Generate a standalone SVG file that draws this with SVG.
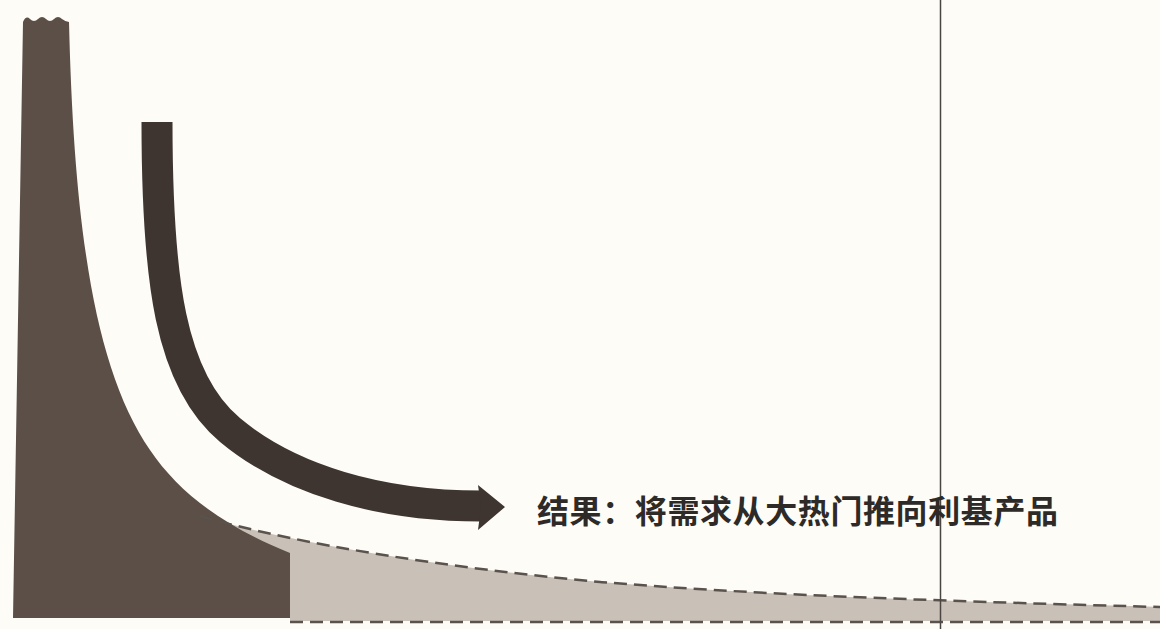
<svg xmlns="http://www.w3.org/2000/svg" width="1160" height="629" viewBox="0 0 1160 629">
  <style>
    .bg { fill: #fdfcf6; }
    .head { fill: #5b4f48; }
    .tailfill { fill: #c9c1b8; }
    .dash { fill: none; stroke: #5a524c; stroke-width: 2.5; stroke-dasharray: 13 7; }
    .shaft { fill: none; stroke: #3e3430; stroke-width: 31; stroke-linecap: butt; }
    .ahead { fill: #3e3430; }
    .label { font-family: "Noto Sans CJK SC", "Noto Sans", sans-serif; font-weight: 700; font-size: 32px; fill: #2e2a28; letter-spacing: 0.6px; }
    .divider { stroke: #4a4644; stroke-width: 1.5; }
  </style>
  <rect class="bg" x="0" y="0" width="1160" height="629"/>

  <g id="tail">
    <path class="tailfill" d="M200,516 C300,545 450,568 600,582 C750,594 900,600 1160,607 L1160,621 L290,621 L290,560 Z"/>
    <path class="dash" d="M290,622 L1160,622"/>
  </g>

  <g id="head">
    <path class="head" d="M23,22 Q26,15 30,19 Q34,23 38,19 Q42,15 46,19 Q50,23 54,19 Q58,15 62,19 Q66,22 69,22 C74,230 95,370 150,450 C177,490 220,525 290,553 L290,618 L13,618 Z"/>
  </g>

  <g id="tail-edge">
    <path class="dash" d="M200,516 C300,545 450,568 600,582 C750,594 900,600 1160,607"/>
  </g>

  <g id="connectors">
    <path class="shaft" d="M157,122 C157,280 170,380 230,430 C290,480 380,506 481,506"/>
    <polygon class="ahead" points="478,485 505,507 478,530 481,507"/>
  </g>

  <g id="divider">
    <line class="divider" x1="940.5" y1="0" x2="940.5" y2="629"/>
  </g>

  <g id="label">
    <text class="label" x="537" y="523">结果：将需求从大热门推向利基产品</text>
  </g>
</svg>
